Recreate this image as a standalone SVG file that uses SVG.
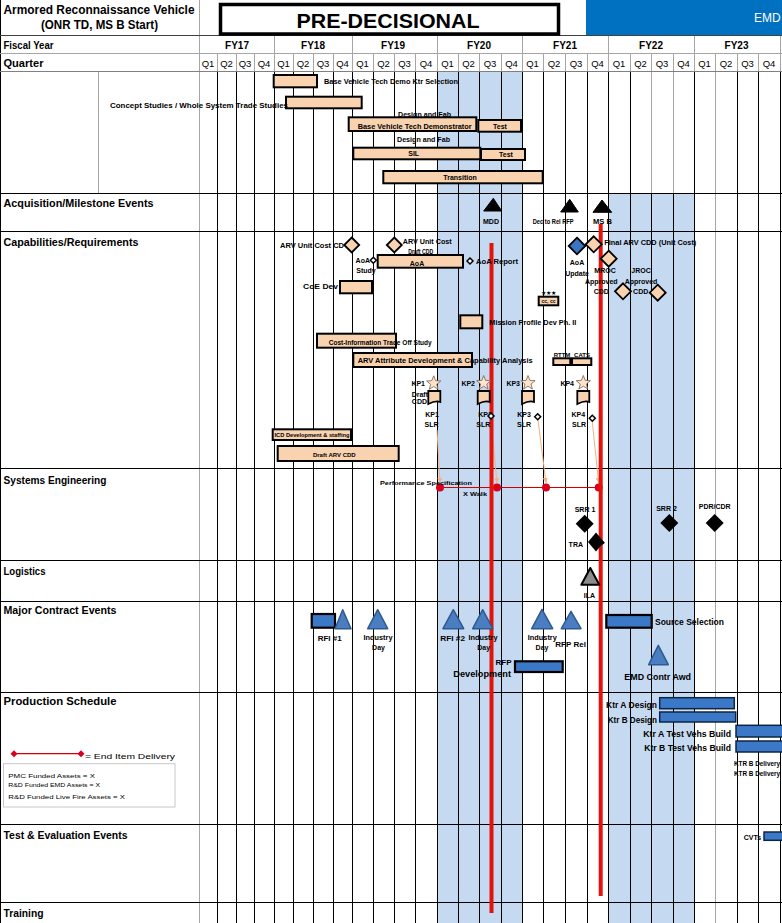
<svg xmlns="http://www.w3.org/2000/svg" width="782" height="923" viewBox="0 0 782 923">
<style>
text{font-family:"Liberation Sans",Arial,sans-serif;fill:#000}
.rl{font-weight:bold;font-size:10.5px}
.fy{font-weight:bold;font-size:10px;text-anchor:middle}
.q{font-size:9.5px;text-anchor:middle}
.s5{font-size:5px;font-weight:bold}
.s6{font-size:6px;font-weight:bold}
.s7{font-size:7px;font-weight:bold}
.s8{font-size:8px;font-weight:bold}
.s9{font-size:9px;font-weight:bold}
.m{text-anchor:middle}
.e{text-anchor:end}
.pb{fill:#F9D3B0;stroke:#000;stroke-width:2}
.bb{fill:#3B78C8;stroke:#000;stroke-width:2.2}
.kb{fill:#3B78C8;stroke:#0F2440;stroke-width:1.5}
.tri{fill:#4A7EC0;stroke:#2D5A91;stroke-width:1.5;stroke-linejoin:round}
.pd{fill:#F9D3B0;stroke:#000;stroke-width:1.8}
.od{fill:#fff;stroke:#000;stroke-width:1.5}
.star{fill:#FCE4CE;stroke:#7A6048;stroke-width:0.8}
.gl{stroke:#000;stroke-width:1;fill:none}
.gg{stroke:#A6A6A6;stroke-width:1;fill:none}
.ol{stroke:#F4B183;stroke-width:1;fill:none}
.rv{stroke:#E3120B;stroke-width:4;fill:none}
</style>
<defs>
<path id="star" class="star" d="M0,-7.5 L1.9,-2.6 L7.1,-2.3 L3.05,1 L4.4,6.05 L0,3.2 L-4.4,6.05 L-3.05,1 L-7.1,-2.3 L-1.9,-2.6 Z"/>
<path id="doc" d="M0,0 H12 V11 C8,9.5 4,11 0,13 Z" fill="#F9D3B0" stroke="#000" stroke-width="1.8"/>
<marker id="ah" viewBox="0 0 6 6" refX="6" refY="3" markerWidth="5" markerHeight="5" orient="auto"><path d="M0,0 L6,3 L0,6 z" fill="#F4B183"/></marker>
</defs>
<rect width="782" height="923" fill="#fff"/>
<g id="shading">
<rect x="437" y="72" width="85" height="851" fill="#C5D9F1"/>
<rect x="608" y="193" width="86" height="730" fill="#C5D9F1"/>
</g>
<g id="grid">
<path class="gl" d="M217.5 71.5V923M236.5 71.5V923M254.5 71.5V923M274.5 71.5V923M293.5 71.5V923M313.5 71.5V923M333.5 71.5V923M352.5 71.5V923M373.5 71.5V923M394.5 71.5V923M415.5 71.5V923M437.5 71.5V923M458.5 71.5V923M479.5 71.5V923M501.5 71.5V923M522.5 71.5V923M543.5 71.5V923M565.5 71.5V923M587.5 71.5V923M608.5 71.5V923M630.5 71.5V923M694.5 71.5V923M737.5 71.5V923M758.5 71.5V923M780.5 71.5V923M651.5 193V923M673.5 193V923M0.5 0V923"/>
<path class="gg" d="M651.5 71.5V193M673.5 71.5V193M98.5 71.5V193M199.5 0V923M715.5 71.5V923M274.5 35.5V53.5M352.5 35.5V53.5M437.5 35.5V53.5M522.5 35.5V53.5M608.5 35.5V53.5M694.5 35.5V53.5M780.5 35.5V53.5M217.5 53.5V71.5M236.5 53.5V71.5M254.5 53.5V71.5M274.5 53.5V71.5M293.5 53.5V71.5M313.5 53.5V71.5M333.5 53.5V71.5M352.5 53.5V71.5M373.5 53.5V71.5M394.5 53.5V71.5M415.5 53.5V71.5M437.5 53.5V71.5M458.5 53.5V71.5M479.5 53.5V71.5M501.5 53.5V71.5M522.5 53.5V71.5M543.5 53.5V71.5M565.5 53.5V71.5M587.5 53.5V71.5M608.5 53.5V71.5M630.5 53.5V71.5M651.5 53.5V71.5M673.5 53.5V71.5M694.5 53.5V71.5M715.5 53.5V71.5M737.5 53.5V71.5M758.5 53.5V71.5M780.5 53.5V71.5M0 53.5H782"/>
<path d="M0 71.5H782" stroke="#808080" stroke-width="1"/>
<path d="M0 35.5H782" stroke="#404040" stroke-width="1"/>
<path class="gl" d="M0 193.5H782M0 231.5H782M0 468.5H782M0 560.5H782M0 601.5H782M0 692.5H782M0 824.5H782M0 902.5H782"/>
</g>
<g id="header">
<text font-weight="bold" font-size="12" x="3.5" y="14" textLength="191" lengthAdjust="spacingAndGlyphs">Armored Reconnaissance Vehicle</text>
<text font-weight="bold" font-size="12" x="41" y="29" textLength="117" lengthAdjust="spacingAndGlyphs">(ONR TD, MS B Start)</text>
<rect x="220.5" y="4.5" width="338" height="29.5" fill="#fff" stroke="#000" stroke-width="3.5"/>
<text font-weight="bold" font-size="21" x="388" y="28" text-anchor="middle" textLength="183" lengthAdjust="spacingAndGlyphs">PRE-DECISIONAL</text>
<rect x="586" y="0" width="196" height="35" fill="#0070C0"/>
<text font-size="12" x="754" y="22" style="fill:#fff">EMD</text>
<text class="rl" x="3.5" y="48.5" textLength="50" lengthAdjust="spacingAndGlyphs">Fiscal Year</text>
<text class="rl" x="3.5" y="66.5" textLength="40" lengthAdjust="spacingAndGlyphs">Quarter</text>
<text class="fy" x="237" y="48.5">FY17</text>
<text class="fy" x="313" y="48.5">FY18</text>
<text class="fy" x="393" y="48.5">FY19</text>
<text class="fy" x="479" y="48.5">FY20</text>
<text class="fy" x="565" y="48.5">FY21</text>
<text class="fy" x="651" y="48.5">FY22</text>
<text class="fy" x="736.5" y="48.5">FY23</text>
<text class="q" x="208" y="67">Q1</text><text class="q" x="226.5" y="67">Q2</text><text class="q" x="245" y="67">Q3</text><text class="q" x="264" y="67">Q4</text>
<text class="q" x="283.5" y="67">Q1</text><text class="q" x="303" y="67">Q2</text><text class="q" x="323" y="67">Q3</text><text class="q" x="342.5" y="67">Q4</text>
<text class="q" x="362.5" y="67">Q1</text><text class="q" x="383.5" y="67">Q2</text><text class="q" x="404.5" y="67">Q3</text><text class="q" x="426" y="67">Q4</text>
<text class="q" x="447.5" y="67">Q1</text><text class="q" x="468.5" y="67">Q2</text><text class="q" x="490" y="67">Q3</text><text class="q" x="511.5" y="67">Q4</text>
<text class="q" x="532.5" y="67">Q1</text><text class="q" x="554" y="67">Q2</text><text class="q" x="576" y="67">Q3</text><text class="q" x="597.5" y="67">Q4</text>
<text class="q" x="619" y="67">Q1</text><text class="q" x="640.5" y="67">Q2</text><text class="q" x="662" y="67">Q3</text><text class="q" x="683.5" y="67">Q4</text>
<text class="q" x="704.5" y="67">Q1</text><text class="q" x="726" y="67">Q2</text><text class="q" x="747.5" y="67">Q3</text><text class="q" x="769" y="67">Q4</text>
</g>
<g id="row-labels">
<text class="rl" x="3.5" y="207" textLength="150" lengthAdjust="spacingAndGlyphs">Acquisition/Milestone Events</text>
<text class="rl" x="3.5" y="246" textLength="135" lengthAdjust="spacingAndGlyphs">Capabilities/Requirements</text>
<text class="rl" x="3.5" y="484" textLength="103" lengthAdjust="spacingAndGlyphs">Systems Engineering</text>
<text class="rl" x="3.5" y="575" textLength="42" lengthAdjust="spacingAndGlyphs">Logistics</text>
<text class="rl" x="3.5" y="614" textLength="113" lengthAdjust="spacingAndGlyphs">Major Contract Events</text>
<text class="rl" x="3.5" y="705" textLength="113" lengthAdjust="spacingAndGlyphs">Production Schedule</text>
<text class="rl" x="3.5" y="839" textLength="124" lengthAdjust="spacingAndGlyphs">Test &amp; Evaluation Events</text>
<text class="rl" x="3.5" y="917" textLength="40" lengthAdjust="spacingAndGlyphs">Training</text>
</g>
<g id="connectors">
<path class="ol" marker-end="url(#ah)" d="M437 430 L440 483"/>
<path class="ol" marker-end="url(#ah)" d="M491 420 L497 483"/>
<path class="ol" marker-end="url(#ah)" d="M538 420 L546 483"/>
<path class="ol" marker-end="url(#ah)" d="M592.3 422 L598.7 483"/>
<path d="M440 487.5 H598.7" stroke="#D00000" stroke-width="1.2"/>
<circle cx="440" cy="487.5" r="4" fill="#D9001B"/>
<circle cx="497" cy="487.5" r="4" fill="#D9001B"/>
<circle cx="546" cy="487.5" r="4" fill="#D9001B"/>
<circle cx="598.7" cy="487.5" r="4" fill="#D9001B"/>
<path class="rv" d="M491.5 243 V913"/>
<path class="rv" d="M600.7 224 V896"/>
</g>
<g id="bar-ktr-selection"><rect class="pb" x="273.7" y="75" width="43.3" height="12.3"/><text class="s7" x="324" y="83.5" textLength="134" lengthAdjust="spacingAndGlyphs">Base Vehicle Tech Demo Ktr Selection</text></g>
<g id="bar-concept-studies"><rect class="pb" x="286" y="96.7" width="75.7" height="11.6"/><text class="s7" x="110" y="108" textLength="178" lengthAdjust="spacingAndGlyphs">Concept Studies / Whole System Trade Studies</text></g>
<g id="bar-base-vehicle-demo"><text class="s7" x="398" y="117" textLength="53" lengthAdjust="spacingAndGlyphs">Design and Fab</text><rect class="pb" x="348.7" y="117.3" width="127.6" height="13.7" stroke-width="2.5"/><text class="s7" x="357.7" y="129" textLength="114" lengthAdjust="spacingAndGlyphs">Base Vehicle Tech Demonstrator</text></g>
<g id="bar-test-1"><rect class="pb" x="478.3" y="120" width="42.7" height="11.7"/><text class="s7 m" x="500" y="128.5">Test</text></g>
<g id="bar-sil"><text class="s7" x="397" y="142" textLength="53" lengthAdjust="spacingAndGlyphs">Design and Fab</text><rect class="pb" x="353.3" y="147.7" width="127" height="11.6"/><text class="s7 m" x="413.7" y="156">SIL</text></g>
<g id="bar-test-2"><rect class="pb" x="481" y="149" width="44" height="11"/><text class="s7 m" x="506" y="157">Test</text></g>
<g id="bar-transition"><rect class="pb" x="383.3" y="171" width="159.4" height="12.3"/><text class="s7 m" x="460" y="180">Transition</text></g>
<g id="ms-mdd"><path d="M493.3 198.3 L501.7 211 L483.7 211 Z" fill="#000" stroke="#000"/><text class="s7 m" x="491" y="223.5">MDD</text></g>
<g id="ms-dec-rfp"><path d="M569.7 199.3 L578.3 212 L560.7 212 Z" fill="#000" stroke="#000"/><text class="s7" x="532.7" y="224" textLength="41" lengthAdjust="spacingAndGlyphs">Dec to Rel RFP</text></g>
<g id="ms-msb"><path d="M602 200 L611.7 212.3 L593 212.3 Z" fill="#000" stroke="#000"/><text class="s7" x="593" y="224" textLength="19" lengthAdjust="spacingAndGlyphs">MS B</text></g>
<g id="cap-arv-unit-cost-cd"><text class="s7 e" x="344" y="248" textLength="64" lengthAdjust="spacingAndGlyphs">ARV Unit Cost CD</text><path class="pd" d="M351.7 237.5 L359.2 245 L351.7 252.5 L344.2 245 Z"/></g>
<g id="cap-arv-unit-cost-draft"><path class="pd" d="M394.3 237.5 L401.8 245 L394.3 252.5 L386.8 245 Z"/><text class="s7" x="402.7" y="243.5" textLength="49" lengthAdjust="spacingAndGlyphs">ARV Unit Cost</text><text class="s7" x="408.3" y="253.5" textLength="25" lengthAdjust="spacingAndGlyphs">Draft CDD</text></g>
<g id="cap-aoa-study"><text class="s7 e" x="370" y="263">AoA</text><path class="od" d="M373.3 257.3 L376.3 260.3 L373.3 263.3 L370.3 260.3 Z"/><text class="s7 m" x="366" y="273">Study</text></g>
<g id="cap-aoa"><rect class="pb" x="377.7" y="255" width="85.3" height="12.7"/><text class="s7 m" x="417" y="266">AoA</text></g>
<g id="cap-aoa-report"><path class="od" d="M470 258 L473 261 L470 264 L467 261 Z"/><text class="s7" x="476" y="264" textLength="42" lengthAdjust="spacingAndGlyphs">AoA Report</text></g>
<g id="cap-coe-dev"><text class="s7 e" x="338" y="289" textLength="35" lengthAdjust="spacingAndGlyphs">CoE Dev</text><rect class="pb" x="340" y="281" width="32" height="12.3"/></g>
<g id="cap-mission-profile"><rect class="pb" x="460.3" y="315.3" width="22" height="13"/><text class="s7" x="489.3" y="325" textLength="87" lengthAdjust="spacingAndGlyphs">Mission Profile Dev Ph. II</text></g>
<g id="cap-cost-info"><rect class="pb" x="317" y="333.7" width="79" height="14"/><text class="s7" x="328.7" y="344.5" textLength="103" lengthAdjust="spacingAndGlyphs">Cost-Information Trade Off Study</text></g>
<g id="cap-arv-attribute"><rect class="pb" x="353.3" y="353" width="118.7" height="14"/><text class="s8" x="357.7" y="363" textLength="175" lengthAdjust="spacingAndGlyphs">ARV Attribute Development &amp; Capability Analysis</text></g>
<g id="cap-kp1"><text class="s7 e" x="425" y="385.5">KP1</text><use href="#star" x="433.7" y="383.3"/><text class="s7 e" x="428" y="397">Draft</text><text class="s7 e" x="427" y="404">CDD</text><use href="#doc" x="428.3" y="391"/><text class="s7 m" x="432" y="416.5">KP1</text><text class="s7 m" x="431.5" y="426.5">SLR</text></g>
<g id="cap-kp2"><text class="s7 e" x="475" y="385.5">KP2</text><use href="#star" x="483.7" y="383"/><use href="#doc" x="477.7" y="391"/><text class="s7 m" x="485" y="416.5">KP2</text><text class="s7 m" x="483.3" y="426.5">SLR</text><path class="od" d="M491 413 L494 416 L491 419 L488 416 Z"/></g>
<g id="cap-kp3"><text class="s7 e" x="520" y="385.5">KP3</text><use href="#star" x="528" y="383"/><use href="#doc" x="522" y="391"/><text class="s7 m" x="524" y="416.5">KP3</text><text class="s7 m" x="524" y="426.5">SLR</text><path class="od" d="M537.7 413.7 L540.7 416.7 L537.7 419.7 L534.7 416.7 Z"/></g>
<g id="cap-kp4"><text class="s7 e" x="574" y="385.5">KP4</text><use href="#star" x="583.3" y="383"/><use href="#doc" x="577.3" y="391"/><text class="s7 m" x="578.3" y="416.5">KP4</text><text class="s7 m" x="579" y="427">SLR</text><path class="od" d="M592.3 415.3 L595.3 418.3 L592.3 421.3 L589.3 418.3 Z"/></g>
<g id="cap-aoa-update"><path d="M577 237.7 L585.3 246 L577 254.3 L568.7 246 Z" fill="#3A75C4" stroke="#000" stroke-width="1.8"/><text class="s7 m" x="577" y="264.5">AoA</text><text class="s7 m" x="577" y="275.5">Update</text></g>
<g id="cap-final-arv-cdd"><path class="pd" d="M593.7 236.3 L601.7 244.3 L593.7 252.3 L585.7 244.3 Z"/><text class="s7" x="604.3" y="244.5" textLength="92" lengthAdjust="spacingAndGlyphs">Final ARV CDD (Unit Cost)</text></g>
<g id="cap-mroc"><path class="pd" d="M608.7 250.7 L616.7 258.7 L608.7 266.7 L600.7 258.7 Z"/><text class="s7 m" x="605" y="273">MROC</text><text class="s7 m" x="601.3" y="283.5">Approved</text><text class="s7 m" x="601.3" y="294">CDD</text><path class="pd" d="M623 283.3 L631 291.3 L623 299.3 L615 291.3 Z"/></g>
<g id="cap-jroc"><text class="s7 m" x="641" y="273">JROC</text><text class="s7 m" x="641" y="283.5">Approved</text><text class="s7 m" x="640.7" y="294">CDD</text><path class="pd" d="M657.7 284.7 L665.7 292.7 L657.7 300.7 L649.7 292.7 Z"/></g>
<g id="cap-stars"><text x="548.5" y="294.5" font-family="DejaVu Sans,sans-serif" font-size="5.5" text-anchor="middle">★★★</text><rect class="pb" x="538.7" y="296.7" width="19.6" height="8.6" stroke-width="1.5"/><text class="s5 m" x="548.5" y="302.8">cc, cc</text></g>
<g id="cap-rttm"><text class="s6 m" x="562" y="357">RTTM</text><rect class="pb" x="553.3" y="358.3" width="17" height="6.7" stroke-width="1.5"/></g>
<g id="cap-cats"><text class="s6 m" x="582" y="357">CATS</text><rect class="pb" x="572" y="358.3" width="19.3" height="6.7" stroke-width="1.5"/></g>
<g id="cap-icd-dev"><rect class="pb" x="272.7" y="429.3" width="78.3" height="10.7"/><text class="s5" x="274.5" y="437" textLength="75" lengthAdjust="spacingAndGlyphs">ICD Development &amp; staffing</text></g>
<g id="cap-draft-arv-cdd"><rect class="pb" x="277.7" y="446" width="121" height="15"/><text class="s6 m" x="334.3" y="456.5">Draft ARV CDD</text></g>
<g id="se-perf-spec"><text class="s6" x="380" y="485" textLength="92" lengthAdjust="spacingAndGlyphs">Performance Specification</text><text class="s6" x="463" y="496" textLength="24" lengthAdjust="spacingAndGlyphs">X Walk</text></g>
<g id="se-srr1"><text class="s7 m" x="585" y="512">SRR 1</text><path d="M584.7 514.7 L593.7 523.7 L584.7 532.7 L575.7 523.7 Z" fill="#000"/></g>
<g id="se-srr2"><text class="s7 m" x="666.5" y="511">SRR 2</text><path d="M669.3 514 L678.3 523 L669.3 532 L660.3 523 Z" fill="#000"/></g>
<g id="se-pdr-cdr"><text class="s7 m" x="714.7" y="509">PDR/CDR</text><path d="M714.7 514 L723.7 523 L714.7 532 L705.7 523 Z" fill="#000"/></g>
<g id="se-tra"><text class="s7 e" x="583" y="547">TRA</text><path d="M596 532.5 L604 542 L596 551.5 L588 542 Z" fill="#000"/><path d="M601.5 540 L605 542.7 L601.5 545.4 Z" fill="#000"/></g>
<g id="log-ila"><path d="M590.3 568 L599.3 584.7 L581.3 584.7 Z" fill="#8C8C8C" stroke="#000" stroke-width="2" stroke-linejoin="round"/><text class="s7 m" x="589.5" y="597.5">ILA</text></g>
<g id="mc-rfi1"><rect class="bb" x="311.7" y="614" width="23.3" height="13.7"/><path class="tri" d="M342.7 609.7 L351 628.7 L335 628.7 Z"/><text class="s8" x="317.7" y="641" textLength="24" lengthAdjust="spacingAndGlyphs">RFI #1</text></g>
<g id="mc-industry-day-1"><path class="tri" d="M377.7 609.7 L387.7 628.7 L367.7 628.7 Z"/><text class="s7" x="363.5" y="639.5" textLength="29" lengthAdjust="spacingAndGlyphs">Industry</text><text class="s7 m" x="378.5" y="649.5">Day</text></g>
<g id="mc-rfi2"><path class="tri" d="M453.3 609.7 L463.7 628.7 L443 628.7 Z"/><text class="s8" x="440.3" y="641" textLength="24.7" lengthAdjust="spacingAndGlyphs">RFI #2</text></g>
<g id="mc-industry-day-2"><path class="tri" d="M482.7 609.7 L492.7 628.7 L472.7 628.7 Z"/><text class="s7" x="468.5" y="639.5" textLength="29" lengthAdjust="spacingAndGlyphs">Industry</text><text class="s7 m" x="483.7" y="649.5">Day</text></g>
<g id="mc-rfp-dev"><text class="s8 m" x="503.5" y="665">RFP</text><text font-size="9" font-weight="bold" x="453.3" y="677" textLength="57.7" lengthAdjust="spacingAndGlyphs">Development</text><rect class="bb" x="515" y="661.3" width="47.7" height="10.7"/></g>
<g id="mc-industry-day-3"><path class="tri" d="M542 609.3 L552.7 628.7 L531.7 628.7 Z"/><text class="s7" x="527.8" y="639.5" textLength="29" lengthAdjust="spacingAndGlyphs">Industry</text><text class="s7 m" x="542" y="649.5">Day</text></g>
<g id="mc-rfp-rel"><path class="tri" d="M571 611.3 L581 628.7 L561.3 628.7 Z"/><text class="s8" x="555.3" y="646.5" textLength="30.7" lengthAdjust="spacingAndGlyphs">RFP Rel</text></g>
<g id="mc-source-selection"><rect class="bb" x="606.3" y="615" width="45.4" height="12.7"/><text font-size="9" font-weight="bold" x="655" y="625" textLength="69" lengthAdjust="spacingAndGlyphs">Source Selection</text></g>
<g id="mc-emd-award"><path class="tri" d="M658.3 645.3 L668.3 664.7 L648.7 664.7 Z"/><text font-size="9" font-weight="bold" x="624.3" y="680" textLength="66.7" lengthAdjust="spacingAndGlyphs">EMD Contr Awd</text></g>
<g id="ps-legend"><path d="M14 753.7 H81" stroke="#D00000" stroke-width="1.2"/><path d="M14 750.2 L17.5 753.7 L14 757.2 L10.5 753.7 Z M81 750.2 L84.5 753.7 L81 757.2 L77.5 753.7 Z" fill="#D9001B"/><text font-size="8" x="85" y="759" textLength="90" lengthAdjust="spacingAndGlyphs">= End Item Delivery</text><rect x="3.5" y="763.7" width="171.5" height="43.3" fill="#fff" stroke="#C8C8C8" stroke-width="1"/><text font-size="6" x="8.3" y="778" textLength="86.7" lengthAdjust="spacingAndGlyphs">PMC Funded Assets = X</text><text font-size="6" x="8.3" y="786.5" textLength="91.7" lengthAdjust="spacingAndGlyphs">R&amp;D Funded EMD Assets = X</text><text font-size="6" x="8.3" y="799" textLength="116.7" lengthAdjust="spacingAndGlyphs">R&amp;D Funded Live Fire Assets = X</text></g>
<g id="ps-ktr-a-design"><text font-size="9" font-weight="bold" x="606" y="708" textLength="51" lengthAdjust="spacingAndGlyphs">Ktr A Design</text><rect class="kb" x="659.7" y="697.7" width="74.6" height="11"/></g>
<g id="ps-ktr-b-design"><text font-size="9" font-weight="bold" x="607.7" y="723" textLength="49.3" lengthAdjust="spacingAndGlyphs">Ktr B Design</text><rect class="kb" x="659.7" y="712" width="76" height="10"/></g>
<g id="ps-ktr-a-build"><text font-size="9" font-weight="bold" x="643.3" y="737" textLength="87.7" lengthAdjust="spacingAndGlyphs">Ktr A Test Vehs Build</text><rect class="kb" x="736" y="725.3" width="54" height="11.7"/></g>
<g id="ps-ktr-b-build"><text font-size="9" font-weight="bold" x="644.3" y="751" textLength="86.7" lengthAdjust="spacingAndGlyphs">Ktr B Test Vehs Build</text><rect class="kb" x="736" y="741" width="54" height="11"/></g>
<g id="ps-ktr-deliveries"><text font-size="6.5" font-weight="bold" x="734" y="766" textLength="46" lengthAdjust="spacingAndGlyphs">KTR B Delivery</text><text font-size="6.5" font-weight="bold" x="734" y="776" textLength="46" lengthAdjust="spacingAndGlyphs">KTR B Delivery</text></g>
<g id="te-cvts"><text class="s7" x="743.7" y="840">CVTs</text><rect class="kb" x="764" y="832" width="26" height="8.3"/></g>
</svg>
